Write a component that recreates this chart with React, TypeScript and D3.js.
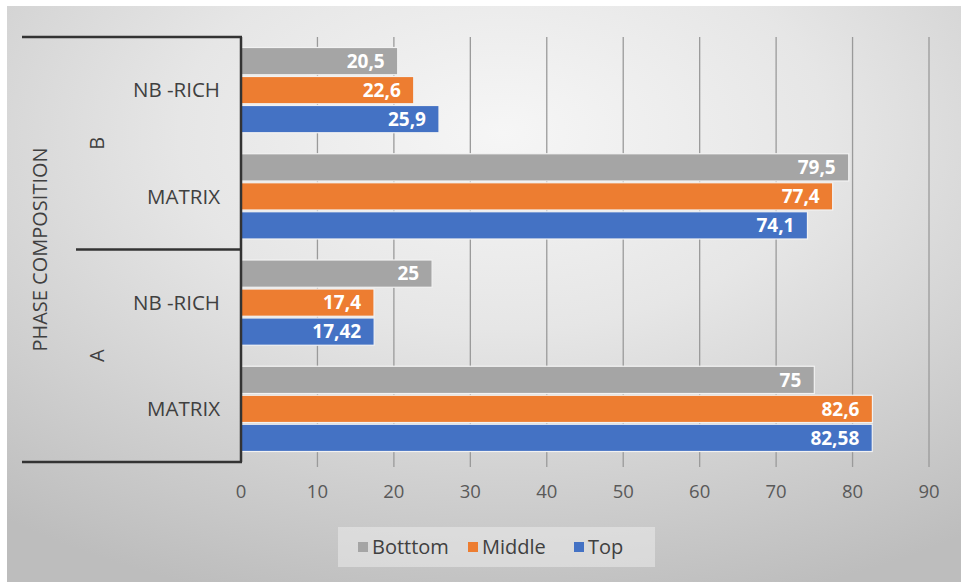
import React from 'react';
import * as d3 from 'd3';

const groups = ['A', 'A', 'B', 'B'];
const categories = ['MATRIX', 'NB -RICH', 'MATRIX', 'NB -RICH'];
const seriesNames = ['Botttom', 'Middle', 'Top'];
const bottomValues = [75, 25, 79.5, 20.5];
const middleValues = [82.6, 17.4, 77.4, 22.6];
const topValues = [82.58, 17.42, 74.1, 25.9];
const xTicks = [0, 10, 20, 30, 40, 50, 60, 70, 80, 90];
const colors = ['#A5A5A5', '#ED7D31', '#4472C4'];

const W = 961;
const H = 582;
const FONT = "'Open Sans', 'Noto Sans', sans-serif";

export default function App() {
  const x = d3.scaleLinear().domain([0, 90]).range([241, 929]);
  const keys = categories.map((c, i) => groups[i] + '|' + c + '|' + i);
  const y = d3.scaleBand().domain([...keys].reverse()).range([37, 462]).padding(0);
  const inner = d3
    .scaleBand()
    .domain(seriesNames)
    .range([10.5, y.bandwidth() - 10.5])
    .paddingInner(0.06);
  const series = [bottomValues, middleValues, topValues];
  const fmt = (v: number) => String(v).replace('.', ',');

  const groupNames = Array.from(new Set(groups));
  const groupExtent = (g: string) => {
    const ks = keys.filter((k) => k.startsWith(g + '|'));
    const ys = ks.map((k) => y(k) as number);
    return [d3.min(ys) as number, (d3.max(ys) as number) + y.bandwidth()];
  };

  const legendX = [358, 468, 574];

  return (
    <svg width={W} height={H} style={{ position: 'absolute', left: 0, top: 0 }}>
      <defs>
        <radialGradient id="bg" cx="52%" cy="22%" r="85%">
          <stop offset="0%" stopColor="#f6f6f6" />
          <stop offset="40%" stopColor="#e6e6e6" />
          <stop offset="100%" stopColor="#bdbdbd" />
        </radialGradient>
      </defs>
      <rect x={0} y={0} width={W} height={H} fill="#ffffff" />
      <rect x={7} y={6} width={W - 7} height={H - 6} fill="url(#bg)" />

      {xTicks.slice(1).map((t) => (
        <line key={'g' + t} x1={x(t)} x2={x(t)} y1={37} y2={467} stroke="#9a9a9a" strokeWidth={1.3} />
      ))}

      {keys.map((k, ci) => (
        <g key={k} transform={`translate(0,${y(k)})`}>
          {seriesNames.map((s, si) => {
            const v = series[si][ci];
            const by = inner(s) as number;
            return (
              <g key={s}>
                <rect
                  x={x(0)}
                  y={by}
                  width={x(v) - x(0)}
                  height={inner.bandwidth()}
                  fill={colors[si]}
                  stroke="#f2f2f2"
                  strokeWidth={1.2}
                />
                <text
                  x={x(v) - 13}
                  y={by + inner.bandwidth() / 2}
                  dy="0.35em"
                  textAnchor="end"
                  fill="#ffffff"
                  fontFamily={FONT}
                  fontWeight={700}
                  fontSize={19}
                >
                  {fmt(v)}
                </text>
              </g>
            );
          })}
          <text
            x={220}
            y={y.bandwidth() / 2}
            dy="0.35em"
            textAnchor="end"
            fill="#404040"
            fontFamily={FONT}
            fontSize={20.5}
          >
            {categories[ci]}
          </text>
        </g>
      ))}

      <line x1={241} x2={241} y1={37} y2={462} stroke="#333" strokeWidth={2.5} />
      <line x1={22} x2={242} y1={37} y2={37} stroke="#333" strokeWidth={2.5} />
      <line x1={22} x2={242} y1={462} y2={462} stroke="#333" strokeWidth={2.5} />
      {groupNames.slice(1).map((g) => {
        const [, bottom] = groupExtent(g);
        return <line key={'sep' + g} x1={76} x2={242} y1={bottom} y2={bottom} stroke="#333" strokeWidth={2.5} />;
      })}
      {groupNames.map((g) => {
        const [a, b] = groupExtent(g);
        const cy = (a + b) / 2;
        return (
          <text
            key={'gl' + g}
            transform={`translate(97,${cy}) rotate(-90)`}
            textAnchor="middle"
            dy="0.35em"
            fill="#404040"
            fontFamily={FONT}
            fontSize={20}
          >
            {g}
          </text>
        );
      })}
      <text
        transform={`translate(40,${(37 + 462) / 2}) rotate(-90)`}
        textAnchor="middle"
        dy="0.35em"
        fill="#404040"
        fontFamily={FONT}
        fontSize={20}
      >
        PHASE COMPOSITION
      </text>

      {xTicks.map((t) => (
        <text
          key={'t' + t}
          x={x(t)}
          y={492}
          dy="0.35em"
          textAnchor="middle"
          fill="#595959"
          fontFamily={FONT}
          fontSize={18.5}
        >
          {t}
        </text>
      ))}

      <rect x={338} y={527} width={317} height={40} fill="#ebebeb" opacity={0.55} />
      {seriesNames.map((s, i) => (
        <g key={'lg' + s}>
          <rect x={legendX[i]} y={542} width={10} height={10} fill={colors[i]} />
          <text
            x={legendX[i] + 14}
            y={547}
            dy="0.35em"
            fill="#404040"
            fontFamily={FONT}
            fontSize={20}
          >
            {s}
          </text>
        </g>
      ))}
    </svg>
  );
}
